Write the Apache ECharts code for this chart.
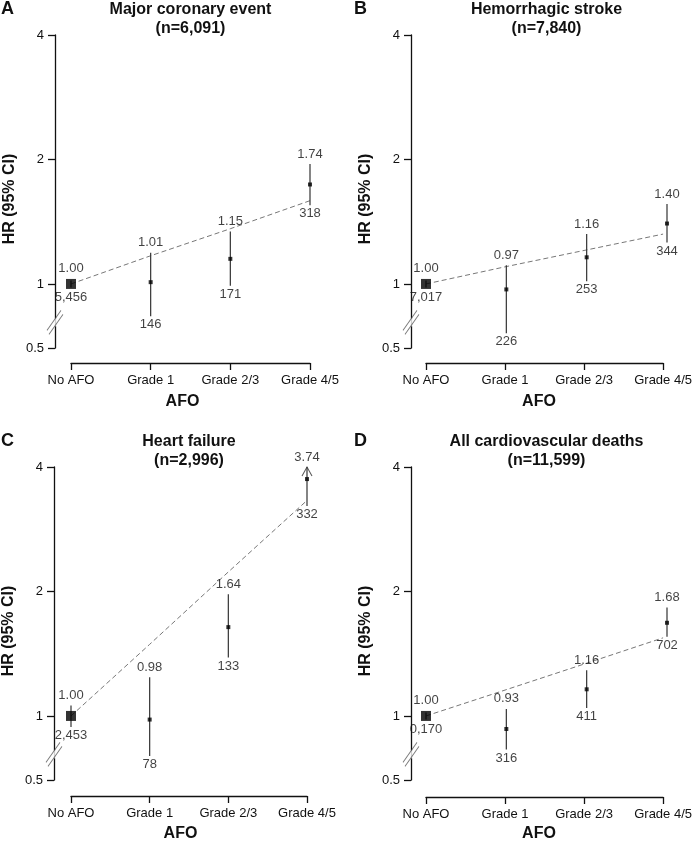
<!DOCTYPE html>
<html><head><meta charset="utf-8">
<script src="https://cdn.jsdelivr.net/npm/echarts@6/dist/echarts.min.js"></script>
<style>html,body{margin:0;padding:0;background:#fff}#wrap{position:relative;width:695px;height:841px;background:#fff}
.layer{position:absolute;left:0;top:0;width:695px;height:841px}</style>
</head><body><div id="wrap"></div><script>
const FONT = '"Liberation Sans", Arial, Helvetica, sans-serif';

const categories = ['No AFO', 'Grade 1', 'Grade 2/3', 'Grade 4/5'];
const yTickValues = [0.5, 1, 2, 4];
const yTickLabels = ['0.5', '1', '2', '4'];
const xAxisTitle = 'AFO';
const yAxisTitle = 'HR (95% CI)';

// Panel A
const letterA = 'A';
const titleA = 'Major coronary event\n(n=6,091)';
const hrA = [1.00, 1.01, 1.15, 1.74];
const ciLowA = [0.98, 0.835, 0.99, 1.55];
const ciHighA = [1.02, 1.19, 1.34, 1.95];
const trendA = [1.00, 1.17, 1.36, 1.59];
const countA = ['5,456', '146', '171', '318'];

// Panel B
const letterB = 'B';
const titleB = 'Hemorrhagic stroke\n(n=7,840)';
const hrB = [1.00, 0.97, 1.16, 1.40];
const ciLowB = [0.98, 0.76, 1.015, 1.26];
const ciHighB = [1.02, 1.11, 1.32, 1.56];
const trendB = [1.00, 1.10, 1.205, 1.32];
const countB = ['7,017', '226', '253', '344'];

// Panel C
const letterC = 'C';
const titleC = 'Heart failure\n(n=2,996)';
const hrC = [1.00, 0.98, 1.64, 3.74];
const ciLowC = [0.94, 0.80, 1.385, 3.22];
const ciHighC = [1.06, 1.24, 1.97, 4.4];
const trendC = [1.00, 1.49, 2.23, 3.32];
const countC = ['2,453', '78', '133', '332'];

// Panel D
const letterD = 'D';
const titleD = 'All cardiovascular deaths\n(n=11,599)';
const hrD = [1.00, 0.93, 1.16, 1.68];
const ciLowD = [0.98, 0.83, 1.045, 1.555];
const ciHighD = [1.02, 1.04, 1.29, 1.83];
const trendD = [1.00, 1.155, 1.335, 1.545];
const countD = ['0,170', '316', '411', '702'];

// axis break: the segment 0.5..0.7 is hidden
const BREAK_LOW = 0.5, BREAK_HIGH = 0.7;
const Y_MAX = 4;
function yPos(v) {
  if (v >= BREAK_HIGH) return Math.log2(v);
  return Math.log2(BREAK_HIGH);
}

const panels = [
  {letter: letterA, title: titleA, hr: hrA, lo: ciLowA, hi: ciHighA, trend: trendA, n: countA,
   left: 71, top: 35, width: 239, yOff: 16, xOff: 15},
  {letter: letterB, title: titleB, hr: hrB, lo: ciLowB, hi: ciHighB, trend: trendB, n: countB,
   left: 426, top: 35, width: 241, yOff: 15, xOff: 15},
  {letter: letterC, title: titleC, hr: hrC, lo: ciLowC, hi: ciHighC, trend: trendC, n: countC,
   left: 71, top: 467, width: 236, yOff: 17, xOff: 16},
  {letter: letterD, title: titleD, hr: hrD, lo: ciLowD, hi: ciHighD, trend: trendD, n: countD,
   left: 426, top: 467, width: 241, yOff: 15, xOff: 17}
];
const PLOT_H = 313;
const REF_SIZE = 10, PT_SIZE = 4;
const INK = '#111';
const Y_MIN_POS = yPos(yTickValues[0]), Y_MAX_POS = yPos(Y_MAX);
const PX_PER_UNIT = PLOT_H / (Y_MAX_POS - Y_MIN_POS);

const tickPos = yTickValues.map(yPos);
function tickLabel(v) {
  for (let k = 0; k < tickPos.length; k++) if (Math.abs(tickPos[k] - v) < 1e-6) return yTickLabels[k];
  return '';
}

const wrap = document.getElementById('wrap');
function newLayer() {
  const d = document.createElement('div');
  d.className = 'layer';
  wrap.appendChild(d);
  return echarts.init(d, null, {renderer: 'canvas'});
}

// Layer 1: axes and dashed trend line
function axesOption(p) {
  return {
    animation: false,
    grid: [{left: p.left, top: p.top, width: p.width, height: PLOT_H}],
    xAxis: [{type: 'category', data: categories, boundaryGap: false, offset: p.xOff,
      axisLine: {show: true, onZero: false, lineStyle: {color: INK, width: 1.3}},
      axisTick: {show: true, length: 7, interval: 0, lineStyle: {color: INK, width: 1.3}},
      axisLabel: {interval: 0, fontSize: 13, color: INK, margin: 11, fontFamily: FONT},
      splitLine: {show: false}}],
    yAxis: [{type: 'value', min: Y_MIN_POS, max: Y_MAX_POS, offset: p.yOff,
      axisLine: {show: true, onZero: false, lineStyle: {color: INK, width: 1.3}},
      axisTick: {show: true, length: 7, customValues: tickPos, lineStyle: {color: INK, width: 1.3}},
      axisLabel: {customValues: tickPos, formatter: tickLabel, fontSize: 13, color: INK, margin: 11, fontFamily: FONT},
      splitLine: {show: false}}],
    series: [{type: 'line', data: p.trend.map((v, i) => [i, yPos(v)]), symbol: 'none',
      clip: false, silent: true, lineStyle: {color: '#777', width: 1, type: [5, 3]}, z: 2}]
  };
}

// Layer 2: CIs, points, labels, break marks (same grid/scales, hidden axes)
function marksOption(p) {
  const hiCap = p.hi.map(v => Math.min(v, Y_MAX));
  const half = i => (i === 0 ? REF_SIZE : PT_SIZE) / 2;
  const series = [];
  categories.forEach((c, i) => {
    series.push({type: 'line', data: [[i, yPos(p.lo[i])], [i, yPos(hiCap[i])]], symbol: 'none',
      clip: false, silent: true, lineStyle: {color: '#333', width: 1.2}, z: 3});
  });
  series.push({type: 'scatter', data: p.hr.map((v, i) => [i, yPos(v)]), symbol: 'rect',
    symbolSize: (val, params) => params.dataIndex === 0 ? REF_SIZE : PT_SIZE,
    itemStyle: {color: '#000'}, clip: false, silent: true, z: 4});
  const capped = categories.map((c, i) => i).filter(i => p.hi[i] > Y_MAX);
  if (capped.length) {
    series.push({type: 'scatter', data: capped.map(i => [i, yPos(Y_MAX)]),
      symbol: 'path://M0,9 L5,0 L10,9', symbolSize: [10, 9], symbolOffset: [0, 4.5],
      itemStyle: {color: 'rgba(0,0,0,0)', borderColor: '#333', borderWidth: 1},
      clip: false, silent: true, z: 4});
  }
  series.push({type: 'scatter', symbol: 'circle', symbolSize: 0.1, itemStyle: {color: 'rgba(0,0,0,0)'},
    clip: false, silent: true, z: 5,
    data: categories.map((c, i) => ({value: [i, yPos(hiCap[i])],
      label: {distance: 3.5 + Math.max(0, half(i) - (yPos(hiCap[i]) - yPos(p.hr[i])) * PX_PER_UNIT)}})),
    label: {show: true, position: 'top', formatter: prm => p.hr[prm.dataIndex].toFixed(2),
      fontSize: 13, fontFamily: FONT, color: INK}});
  series.push({type: 'scatter', symbol: 'circle', symbolSize: 0.1, itemStyle: {color: 'rgba(0,0,0,0)'},
    clip: false, silent: true, z: 5,
    data: categories.map((c, i) => ({value: [i, yPos(p.lo[i])],
      label: {distance: 2 + Math.max(0, half(i) - (yPos(p.hr[i]) - yPos(p.lo[i])) * PX_PER_UNIT)}})),
    label: {show: true, position: 'bottom', formatter: prm => p.n[prm.dataIndex],
      fontSize: 13, fontFamily: FONT, color: INK}});
  const tb = 0.6 * Y_MIN_POS;
  series.push({type: 'scatter', clip: false, silent: true, z: 6,
    data: [
      {value: [0, tb], symbol: 'rect', symbolSize: [5, 8], symbolOffset: [-p.yOff, 0], itemStyle: {color: '#fff'}},
      {value: [0, tb], symbol: 'path://M0,20 L14,0', symbolSize: [14, 20], symbolOffset: [-p.yOff - 1, -2],
        itemStyle: {color: 'rgba(0,0,0,0)', borderColor: '#555', borderWidth: 1}},
      {value: [0, tb], symbol: 'path://M0,20 L14,0', symbolSize: [14, 20], symbolOffset: [-p.yOff + 1, 2],
        itemStyle: {color: 'rgba(0,0,0,0)', borderColor: '#555', borderWidth: 1}}
    ]});
  return {
    animation: false,
    grid: [{left: p.left, top: p.top, width: p.width, height: PLOT_H}],
    xAxis: [{type: 'category', data: categories, boundaryGap: false, show: false}],
    yAxis: [{type: 'value', min: Y_MIN_POS, max: Y_MAX_POS, show: false}],
    series: series
  };
}

panels.forEach(p => { newLayer().setOption(axesOption(p)); });
panels.forEach(p => { newLayer().setOption(marksOption(p)); });

// titles, panel letters, axis titles
const graphic = [];
panels.forEach((p, gi) => {
  const axisX = p.left - p.yOff;
  graphic.push({type: 'text', x: p.left + p.width / 2, y: p.top - 35,
    style: {text: p.title, align: 'center', verticalAlign: 'top', fontSize: 16, fontWeight: 'bold',
      lineHeight: 19, fontFamily: FONT, fill: INK}});
  graphic.push({type: 'text', x: p.left - 70 + (gi % 2 ? -2 : 0), y: p.top - 35,
    style: {text: p.letter, align: 'left', verticalAlign: 'top', fontSize: 18, fontWeight: 'bold',
      fontFamily: FONT, fill: INK}});
  graphic.push({type: 'text', x: (axisX + p.left + p.width) / 2, y: p.top + PLOT_H + 54,
    style: {text: xAxisTitle, align: 'center', verticalAlign: 'middle', fontSize: 16, fontWeight: 'bold',
      fontFamily: FONT, fill: INK}});
  graphic.push({type: 'text', x: axisX - 45, y: p.top + PLOT_H / 2 + 7.5, rotation: Math.PI / 2,
    style: {text: yAxisTitle, align: 'center', verticalAlign: 'middle', fontSize: 16, fontWeight: 'bold',
      fontFamily: FONT, fill: INK}});
});
newLayer().setOption({animation: false, graphic: graphic});
</script></body></html>
